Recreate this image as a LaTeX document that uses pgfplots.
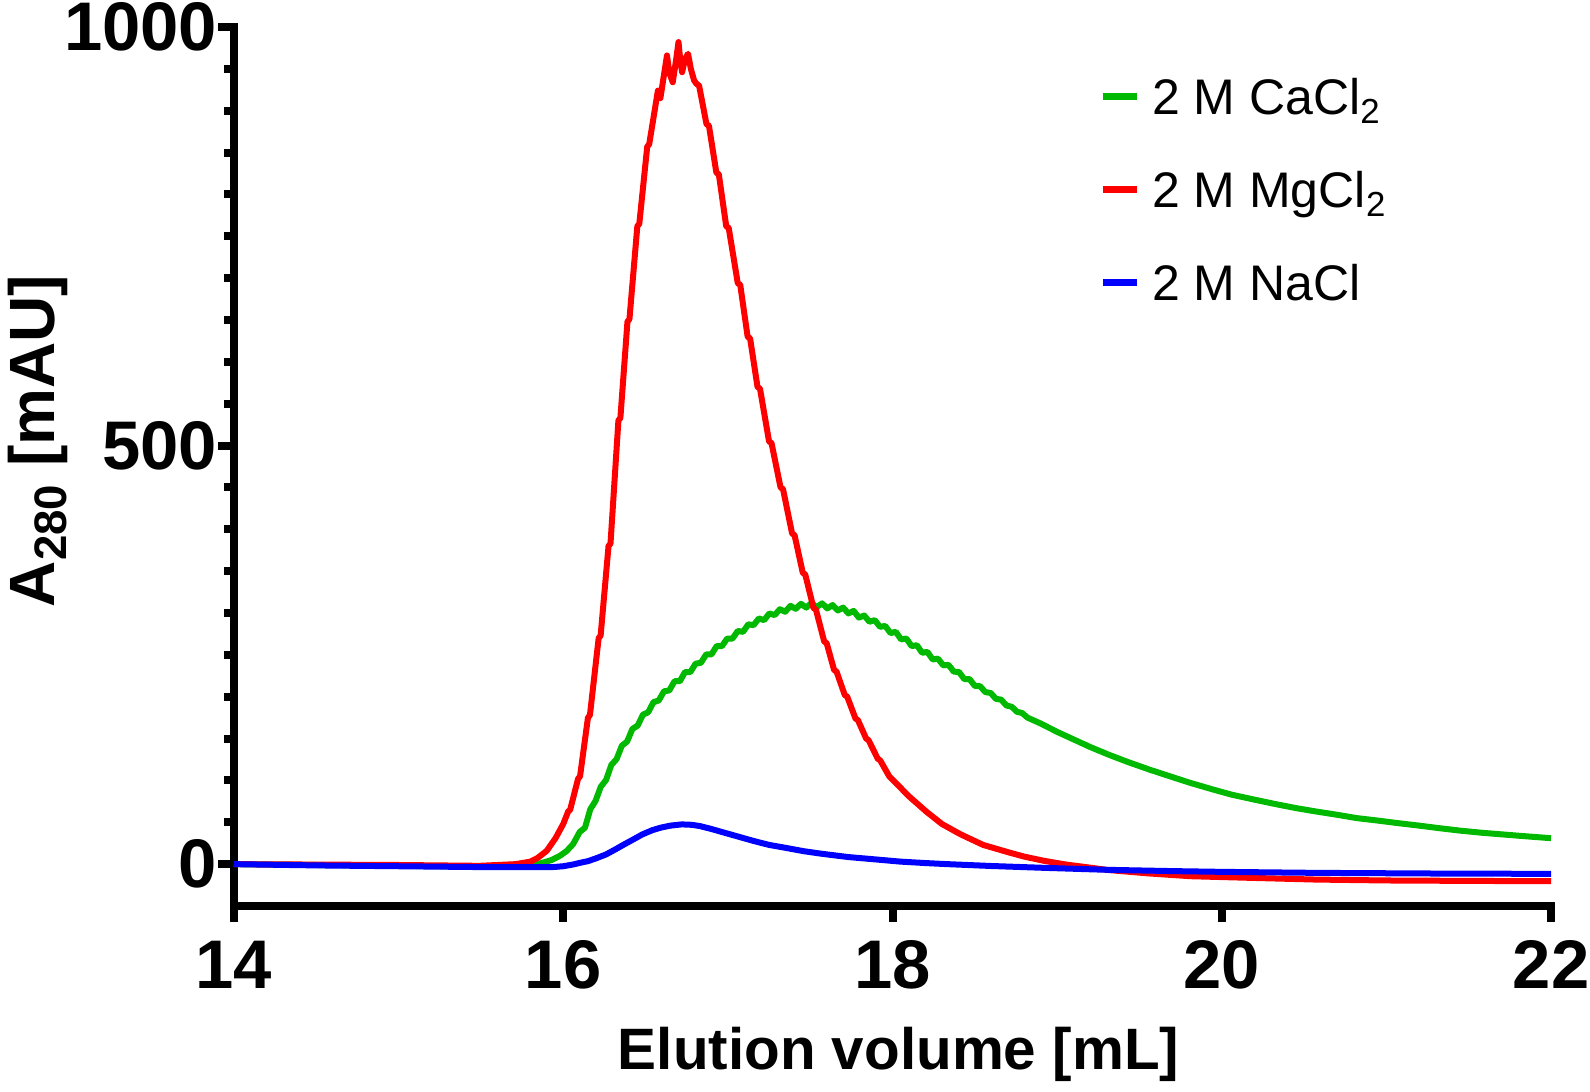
\documentclass[border=0pt]{standalone}
\usepackage{fontspec}
\setmainfont{Liberation Sans}
\usepackage{pgfplots}
\pgfplotsset{compat=1.18}
\definecolor{cgreen}{RGB}{0,185,0}
\definecolor{cred}{RGB}{255,0,0}
\definecolor{cblue}{RGB}{0,0,255}
\newcommand\legsub[1]{\raisebox{-2.2pt}{\fontsize{8.7}{8.7}\selectfont #1}}
\newcommand\labsub[1]{\raisebox{-3pt}{\fontsize{11.4}{11.4}\selectfont\bfseries #1}}
\begin{document}
\begin{tikzpicture}
\begin{axis}[
  scale only axis,
  width=329.25pt, height=219.75pt,
  xmin=14, xmax=22, ymin=-50, ymax=1000,
  axis lines=left,
  axis line style={-, line width=2pt, line cap=rect},
  xtick={14,16,18,20,22}, xticklabels={14,16,18,20,22},
  ytick={0,500,1000}, yticklabels={0,500,1000},
  minor ytick={50,100,...,450,550,600,...,950},
  tick align=outside,
  major tick length=4pt, minor tick length=2.5pt,
  tick style={black, line width=2pt},
  tick label style={font=\fontsize{17.2}{20}\selectfont\bfseries},
  yticklabel style={inner xsep=0pt},
  xticklabel style={inner ysep=4.5pt},
  xlabel={Elution volume [mL]},
  ylabel={A\labsub{280} [mAU]},
  label style={font=\fontsize{14.6}{18}\selectfont\bfseries, inner sep=0pt},
  xlabel style={at={(axis description cs:0.5,0)}, anchor=base, yshift=-40.8pt, xshift=1.5pt},
  ylabel style={at={(axis description cs:-0.136,0.529)}, anchor=base, font=\fontsize{16}{19}\selectfont\bfseries},
  clip=false,
  legend cell align=left,
  legend style={at={(axis cs:19.255,938)}, anchor=north west,
    draw=none, fill=none, inner sep=0pt, outer sep=0pt,
    row sep=14.2pt, column sep=3pt,
    font=\fontsize{12.5}{14}\selectfont,
    nodes={inner sep=0pt, text height=9pt, text depth=0pt}},
  legend image code/.code={\draw[#1, line width=1.75pt, line cap=butt] (0pt,0pt) -- (8.5pt,0pt);},
  every axis plot/.append style={line width=1.5pt, line join=round},
]
\addplot[cgreen] coordinates {
(14.0,0) (14.5,-1) (15.0,-2) (15.5,-3) (15.75,-2.5) (15.82,-1) (15.88,2)
(15.93,5) (15.98,10) (16.02,15.6) (16.06,24)
(16.100,38.5) (16.132,43.5) (16.164,65.5) (16.196,75.5) (16.228,92.5)
(16.260,100.5) (16.292,118.5) (16.324,125.5) (16.356,141.5) (16.388,146.5)
(16.420,161.5) (16.452,165.5) (16.484,178.5) (16.516,181.5) (16.548,193.5)
(16.580,195.5) (16.612,206.5) (16.644,207.5) (16.676,218.5) (16.708,218.5)
(16.740,229.5) (16.772,229.5) (16.804,239.5) (16.836,240.5) (16.868,250.5)
(16.900,250.5) (16.932,260.5) (16.964,260.5) (16.996,269.5) (17.028,269.5)
(17.060,278.5) (17.092,277.5) (17.124,286.5) (17.156,285.5) (17.188,293.5)
(17.220,291.5) (17.252,299.5) (17.284,297.5) (17.316,304.5) (17.348,301.5)
(17.380,308.5) (17.412,305) (17.444,311) (17.476,306.5) (17.508,312)
(17.540,307) (17.572,311.5) (17.604,305.5) (17.636,309.5) (17.668,303)
(17.700,306.5) (17.732,299.5) (17.764,302.5) (17.796,294.5) (17.828,297)
(17.860,289.5) (17.892,291.5) (17.924,283.5) (17.956,284.5) (17.988,276)
(18.020,277.5) (18.052,268.5) (18.084,269.5) (18.116,260.5) (18.148,261.5)
(18.180,252.5) (18.212,253.5) (18.244,244.5) (18.276,245.5) (18.308,237.5)
(18.340,238) (18.372,230) (18.404,229.5) (18.436,221) (18.468,221)
(18.500,213) (18.532,212.5) (18.564,205.5) (18.596,204.5) (18.628,197.5)
(18.660,196.5) (18.692,189.5) (18.724,188) (18.756,182) (18.788,180.5)
(18.820,175) (18.90,168) (19.0,158) (19.1,149) (19.2,140) (19.31,131)
(19.43,122) (19.56,113) (19.7,104) (19.81,97) (19.95,89) (20.06,83)
(20.2,77) (20.32,72) (20.45,67) (20.57,63) (20.7,59) (20.82,55) (20.95,52)
(21.07,49) (21.2,46) (21.32,43) (21.45,40) (21.58,37.5) (21.8,34) (22,31)
};
\addlegendentry{2 M CaCl\legsub{2}}
\addplot[cred] coordinates {
(14.0,0) (14.5,-0.5) (15.0,-1) (15.49,-2) (15.71,0) (15.80,3) (15.845,7.5)
(15.90,16) (15.953,31) (16.00,48)
(16.03,63) (16.042,65) (16.09,102) (16.102,105) (16.15,175) (16.162,178)
(16.215,270) (16.227,273) (16.275,380) (16.287,383) (16.335,530) (16.347,533)
(16.39,648) (16.402,651) (16.45,762) (16.462,765) (16.51,857) (16.522,860)
(16.575,924) (16.59,915) (16.63,966) (16.645,945) (16.665,934) (16.685,960)
(16.70,982) (16.712,958) (16.722,946) (16.74,962) (16.758,968) (16.775,950)
(16.795,936) (16.81,932) (16.825,930)
(16.87,884) (16.885,882) (16.93,826) (16.945,824) (16.99,762) (17.005,760)
(17.06,694) (17.075,692) (17.12,630) (17.135,628) (17.18,570) (17.195,568)
(17.25,505) (17.265,503) (17.32,450) (17.335,448) (17.39,395) (17.405,393)
(17.455,348) (17.47,346) (17.52,306) (17.535,304) (17.585,266) (17.60,264)
(17.645,232) (17.66,230) (17.71,202) (17.725,200) (17.775,174) (17.79,172)
(17.84,150) (17.855,148) (17.91,126) (17.925,124) (17.98,105)
(18.05,91) (18.10,81) (18.204,63) (18.30,48) (18.41,36) (18.55,23) (18.707,14)
(18.80,9) (18.92,4) (19.055,-0.5) (19.31,-7) (19.55,-11) (19.81,-14.4)
(20.2,-16.5) (20.57,-18.4) (21.0,-19.5) (21.5,-20) (22,-20.4)
};
\addlegendentry{2 M MgCl\legsub{2}}
\addplot[cblue] coordinates {
(14.0,0) (14.5,-1.5) (15.0,-2.5) (15.5,-3.5) (15.93,-3.6) (16.0,-2.5)
(16.06,-0.4) (16.10,1.5) (16.15,3.6) (16.20,7) (16.26,11.6) (16.32,18)
(16.37,23.6) (16.43,30) (16.48,35.5) (16.54,40.5) (16.59,43.5) (16.65,46)
(16.72,47.5) (16.78,47) (16.83,45.5) (16.90,42) (16.98,37.5) (17.07,32.5)
(17.16,27.5) (17.25,23) (17.35,19.5) (17.46,15.5) (17.57,12.4) (17.73,8.5)
(17.90,5.6) (18.05,3) (18.2,1.3) (18.335,0) (18.6,-2.2) (18.92,-4.4)
(19.31,-6.8) (19.7,-8.3) (20.0,-9.2) (20.57,-10.4) (21.3,-11.2) (22,-11.6)
};
\addlegendentry{2 M NaCl}
\end{axis}
\pgfresetboundingbox
\path (-58.5pt,-46.25pt) rectangle (339pt,226.5pt);
\end{tikzpicture}
\end{document}
